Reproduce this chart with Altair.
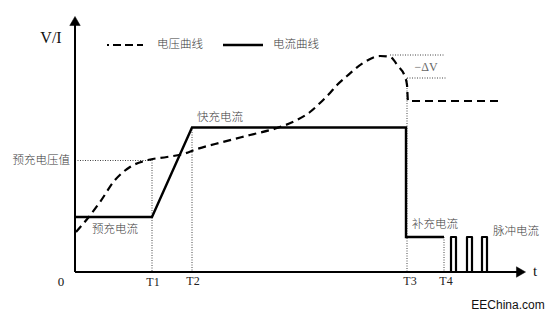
import altair as alt
import pandas as pd

# ---- data (time units from origin, value units from origin) ----
volt_t = [1, 13, 25, 40, 55, 73, 92, 108, 122, 148, 175, 202, 222, 235, 245, 255,
          262, 272, 288, 305, 315, 323, 330, 332, 333, 425]
volt_v = [40, 54, 70, 92, 105, 112, 115, 118, 123, 130, 137, 144, 152, 160, 169, 179,
          187, 196, 209, 216, 215, 206, 195, 187, 171, 171]

cur_t = [0, 77, 117, 331, 331, 369]
cur_i = [55, 55, 144.5, 144.5, 35, 35]

pulse_on = [376, 392, 407]
pulse_off = [381, 397, 412]
pulse_level = 35

# dotted guide lines: (x1, y1, x2, y2)
guide_x1 = [0, 77, 117, 332, 369, 315, 332]
guide_y1 = [111.5, 112, 145, 194, 35, 217, 194]
guide_x2 = [77, 77, 117, 332, 369, 370, 371]
guide_y2 = [111.5, 0, 0, 0, 0, 217, 194]

tick_names = ["T1", "T2", "T3", "T4"]
tick_t = [78, 118, 335, 371]

cn_labels = ["预充电压值", "预充电流", "快充电流", "补充电流", "脉冲电流"]
cn_x = [-5, 17, 122, 337, 418]
cn_y = [111.5, 42, 154, 47, 40]
cn_align = ["right", "left", "left", "left", "left"]

legend_names = ["电压曲线", "电流曲线"]

X_DOM = [-75, 477]
Y_DOM = [-47, 272]
W, H = 552, 319

xs = alt.Scale(domain=X_DOM, nice=False, zero=False)
ys = alt.Scale(domain=Y_DOM, nice=False, zero=False)

CN_FONT = "Noto Sans CJK SC"
CN_COLOR = "#3a3a3a"


def X(f="x"):
    return alt.X(f"{f}:Q", scale=xs, axis=None)


def Y(f="y"):
    return alt.Y(f"{f}:Q", scale=ys, axis=None)


# axes as polylines
ax_df = pd.DataFrame({
    "x": [0, 0, 0, 446], "y": [251, 0, 0, 0], "g": ["v", "v", "h", "h"], "o": [0, 1, 0, 1]
})
axes = alt.Chart(ax_df).mark_line(color="black", strokeWidth=2).encode(
    x=X(), y=Y(), detail="g:N", order="o:Q")

arrow_df = pd.DataFrame({"x": [0, 446], "y": [251, 0],
                         "s": ["triangle-up", "triangle-right"]})
arrows = alt.Chart(arrow_df).mark_point(
    size=110, filled=True, fill="black", stroke="black", strokeWidth=0.5, opacity=1
).encode(x=X(), y=Y(), shape=alt.Shape("s:N", scale=None, legend=None))

# voltage curve
volt_df = pd.DataFrame({"x": volt_t, "y": volt_v, "o": range(len(volt_t))})
volt = alt.Chart(volt_df).mark_line(
    color="black", strokeWidth=2.2, strokeDash=[8, 5], interpolate="monotone"
).encode(x=X(), y=Y(), order="o:Q")

# current curve
cur_df = pd.DataFrame({"x": cur_t, "y": cur_i, "o": range(len(cur_t))})
cur = alt.Chart(cur_df).mark_line(
    color="black", strokeWidth=2.4, strokeJoin="miter"
).encode(x=X(), y=Y(), order="o:Q")

# pulses
prow = []
for k, (a, b) in enumerate(zip(pulse_on, pulse_off)):
    for j, (px, py) in enumerate([(a, 0), (a, pulse_level), (b, pulse_level), (b, 0)]):
        prow.append({"x": px, "y": py, "p": k, "o": j})
pulses = alt.Chart(pd.DataFrame(prow)).mark_line(
    color="black", strokeWidth=2.2, strokeJoin="round"
).encode(x=X(), y=Y(), order="o:Q", detail="p:N")

# guides
g_df = pd.DataFrame({"x": guide_x1, "y": guide_y1, "x2": guide_x2, "y2": guide_y2})
guides = alt.Chart(g_df).mark_rule(
    color="#444", strokeWidth=1, strokeDash=[1, 1.5]
).encode(x=X(), y=Y(), x2="x2:Q", y2="y2:Q")

# legend samples
leg_dash = alt.Chart(pd.DataFrame({"x": [32, 68], "y": [227, 227]})).mark_line(
    color="black", strokeWidth=2.2, strokeDash=[2, 4, 8, 4, 8, 4, 8, 4]
).encode(x=X(), y=Y())
leg_solid = alt.Chart(pd.DataFrame({"x": [148, 188], "y": [227, 227]})).mark_line(
    color="black", strokeWidth=2.4
).encode(x=X(), y=Y())
leg_text = alt.Chart(pd.DataFrame({"x": [82, 198], "y": [227, 227], "t": legend_names})).mark_text(
    font=CN_FONT, fontSize=11.5, fontWeight=300, align="left", baseline="middle", color=CN_COLOR
).encode(x=X(), y=Y(), text="t:N")

# chinese labels
cn_df = pd.DataFrame({"x": cn_x, "y": cn_y, "t": cn_labels, "a": cn_align})
cn_left = alt.Chart(cn_df[cn_df.a == "left"]).mark_text(
    font=CN_FONT, fontSize=11.5, fontWeight=300, align="left", baseline="middle", color=CN_COLOR
).encode(x=X(), y=Y(), text="t:N")
cn_right = alt.Chart(cn_df[cn_df.a == "right"]).mark_text(
    font=CN_FONT, fontSize=11.5, fontWeight=300, align="right", baseline="middle", color=CN_COLOR
).encode(x=X(), y=Y(), text="t:N")

# tick labels
tk = alt.Chart(pd.DataFrame({"x": tick_t, "y": [-10, -9, -9, -9], "t": tick_names})).mark_text(
    font="Liberation Serif", fontSize=12, align="center", baseline="middle", color="#222"
).encode(x=X(), y=Y(), text="t:N")

misc = alt.Chart(pd.DataFrame({
    "x": [-24, -14, 460], "y": [234, -10, 1], "t": ["V/I", "0", "t"], "s": [16, 13, 15]
})).mark_text(font="Liberation Serif", align="center", baseline="middle", color="#111").encode(
    x=X(), y=Y(), text="t:N", size=alt.Size("s:Q", scale=None, legend=None))

dv = alt.Chart(pd.DataFrame({"x": [351], "y": [205], "t": ["−ΔV"]})).mark_text(
    font="Liberation Serif", fontSize=12, align="center", baseline="middle", color="#666"
).encode(x=X(), y=Y(), text="t:N")

wm = alt.Chart(pd.DataFrame({"x": [433], "y": [-33], "t": ["EEChina.com"]})).mark_text(
    font="Liberation Sans", fontSize=12, align="center", baseline="middle", color="#111"
).encode(x=X(), y=Y(), text="t:N")

chart = alt.layer(
    guides, axes, arrows, volt, cur, pulses,
    leg_dash, leg_solid, leg_text, cn_left, cn_right, tk, misc, dv, wm
).properties(
    width=W, height=H, padding=0, autosize=alt.AutoSizeParams(type="none"),
    background="white"
).configure_view(stroke=None)

chart.save("out.html", embed_options={"renderer": "svg", "actions": False})
